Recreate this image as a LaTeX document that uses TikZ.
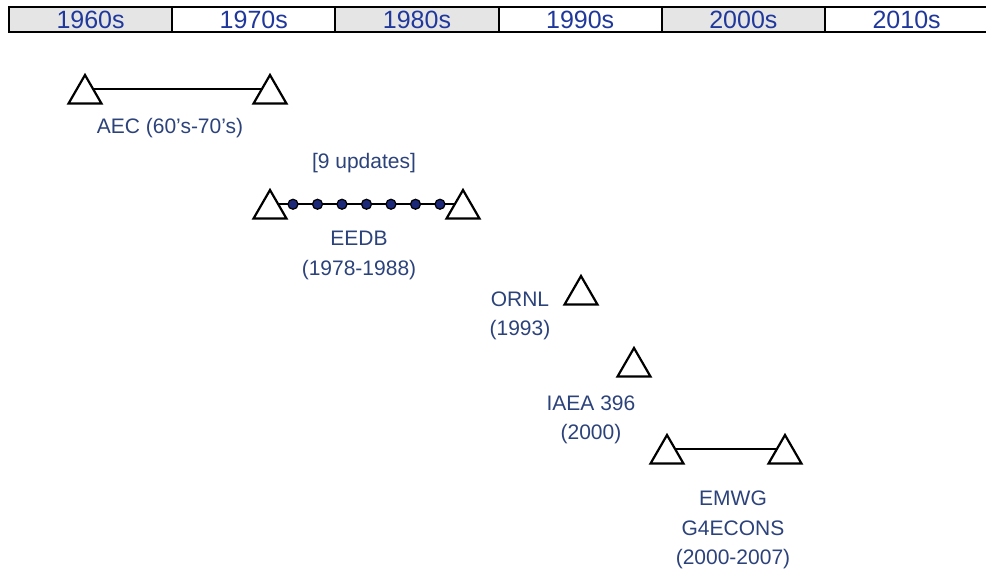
\documentclass[tikz,border=0pt]{standalone}
\usepackage{fontspec}
\setmainfont{Liberation Sans}
\usetikzlibrary{shapes.geometric,positioning}
\definecolor{decblue}{RGB}{32,56,156}
\definecolor{lblblue}{RGB}{44,66,122}
\definecolor{dotblue}{RGB}{28,40,120}

\begin{document}
\begin{tikzpicture}[
   x=1pt,y=-1pt,
   decade/.style={draw=black,line width=2pt,minimum width=163.2pt,minimum height=25pt,
     inner sep=0pt,text=decblue,font=\fontsize{25}{25}\selectfont},
   tri/.style={draw=black,line width=2.2pt,regular polygon,regular polygon sides=3,
     minimum size=38pt,inner sep=0pt,outer sep=0pt},
   linkline/.style={draw=black,line width=2pt},
   upd/.style={circle,draw=black,fill=dotblue,line width=1.2pt,minimum size=10pt,inner sep=0pt},
   lbl/.style={text=lblblue,align=center,font=\fontsize{21}{29.5}\selectfont}
 ]
  \useasboundingbox (0,0) rectangle (986,580);

  % Decade bar along the top, shaded every other cell.
  \foreach \dec/\shade [count=\i] in {1960s/black!10,1970s/white,1980s/black!10,
                                      1990s/white,2000s/black!10,2010s/white}
    \node[decade,fill=\shade] (dec\i) at ({9+163.2*(\i-1)+81.6},19.5) {\dec};

  % AEC estimates.
  \node[tri] (aec1) at (85,94) {};
  \node[tri] (aec2) at (270,94) {};
  \draw[linkline] (aec1.side 3) -- (aec2.side 1);
  \node[lbl] (aec) at (170,128) {AEC (60’s-70’s)};

  % EEDB with its yearly updates.
  \node[tri] (eedb1) at (270,209) {};
  \node[tri] (eedb2) at (463,209) {};
  \draw[linkline] (eedb1.side 3) -- (eedb2.side 1);
  \foreach \i in {1,...,7}
    \node[upd] (u\i) at ({268.5+24.5*\i},204.25) {};
  \node[lbl] (upd) at (364,163) {[9 updates]};
  \node[lbl] (eedb) at (359,255.5) {EEDB\\(1978-1988)};

  % Single studies.
  \node[tri] (ornl1) at (581,295) {};
  \node[lbl] (ornl) at (520,316) {ORNL\\(1993)};
  \node[tri] (iaea1) at (634,367) {};
  \node[lbl] (iaea) at (591,420) {IAEA 396\\(2000)};

  % EMWG guidelines.
  \node[tri] (emwg1) at (667,454) {};
  \node[tri] (emwg2) at (785,454) {};
  \draw[linkline] (emwg1.side 3) -- (emwg2.side 1);
  \node[lbl] (emwg) at (733,530) {EMWG\\G4ECONS\\(2000-2007)};
\end{tikzpicture}
\end{document}
